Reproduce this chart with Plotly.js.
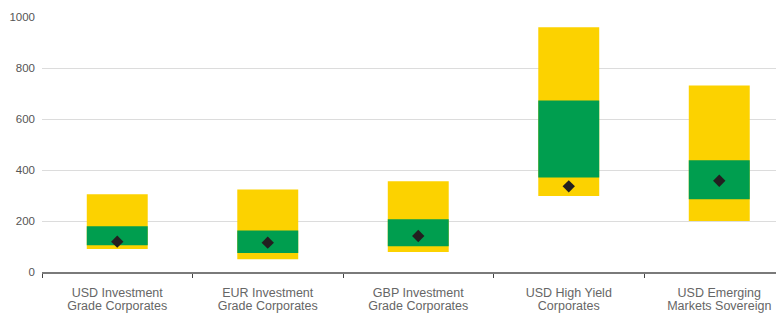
<!DOCTYPE html>
<html>
<head>
<meta charset="utf-8">
<script src="https://cdn.plot.ly/plotly-3.0.1.min.js"></script>
<style>
  html, body { margin: 0; padding: 0; background: #fff; }
  #chart { width: 776px; height: 313px; }
</style>
</head>
<body>
<div id="chart"></div>
<script>
const categories = [
  "USD Investment<br>Grade Corporates",
  "EUR Investment<br>Grade Corporates",
  "GBP Investment<br>Grade Corporates",
  "USD High Yield<br>Corporates",
  "USD Emerging<br>Markets Sovereign"
];
const rangeLow   = [90, 50, 78, 298, 200];
const rangeHigh  = [305, 324, 356, 960, 731];
const middleLow  = [105, 75, 101, 371, 285];
const middleHigh = [179, 163, 207, 673, 438];
const current    = [119, 115, 141, 336, 358];

const yellow = "#FCD200";
const green = "#009E4F";

const traces = [
  {
    type: "bar", x: categories,
    base: rangeLow,
    y: rangeHigh.map((h, i) => h - rangeLow[i]),
    width: 0.405,
    marker: { color: yellow, line: { width: 0 } },
    hoverinfo: "skip", showlegend: false
  },
  {
    type: "bar", x: categories,
    base: middleLow,
    y: middleHigh.map((h, i) => h - middleLow[i]),
    width: 0.405,
    marker: { color: green, line: { width: 0 } },
    hoverinfo: "skip", showlegend: false
  },
  {
    type: "scatter", mode: "markers", x: categories, y: current,
    marker: { symbol: "diamond", size: 9.5, color: "#231F20" },
    hoverinfo: "skip", showlegend: false
  }
];

const layout = {
  width: 776, height: 313,
  margin: { l: 42, r: 0, t: 17, b: 41, pad: 0 },
  paper_bgcolor: "#fff", plot_bgcolor: "#fff",
  barmode: "overlay",
  font: { family: "Liberation Sans, Arial, sans-serif", color: "#666" },
  xaxis: {
    type: "category",
    categoryorder: "array", categoryarray: categories,
    range: [-0.5, 4.377],
    tickson: "boundaries",
    ticks: "outside", ticklen: 4, tickwidth: 1, tickcolor: "#444",
    showline: true, linecolor: "#7a7a7a", linewidth: 2,
    showgrid: false, zeroline: false,
    ticklabelstandoff: 8,
    tickfont: { size: 12.5, color: "#666" },
    fixedrange: true
  },
  yaxis: {
    range: [0, 1000],
    tickvals: [0, 200, 400, 600, 800, 1000],
    ticktext: ["0", "200", "400", "600", "800", "1000"],
    showgrid: true, gridcolor: "#dcdcdc", gridwidth: 1,
    zeroline: false, showline: false,
    ticks: "", ticklabelstandoff: 6,
    tickfont: { size: 11.5, color: "#555" },
    fixedrange: true
  }
};

Plotly.newPlot("chart", traces, layout, { displayModeBar: false, staticPlot: true }).then(function (gd) {
  // tighten the line spacing of the two-line category labels
  gd.querySelectorAll(".xtick text tspan.line").forEach(function (t) {
    const dy = parseFloat(t.getAttribute("dy"));
    if (dy > 0) t.setAttribute("dy", "1.02em");
  });
});
</script>
</body>
</html>
